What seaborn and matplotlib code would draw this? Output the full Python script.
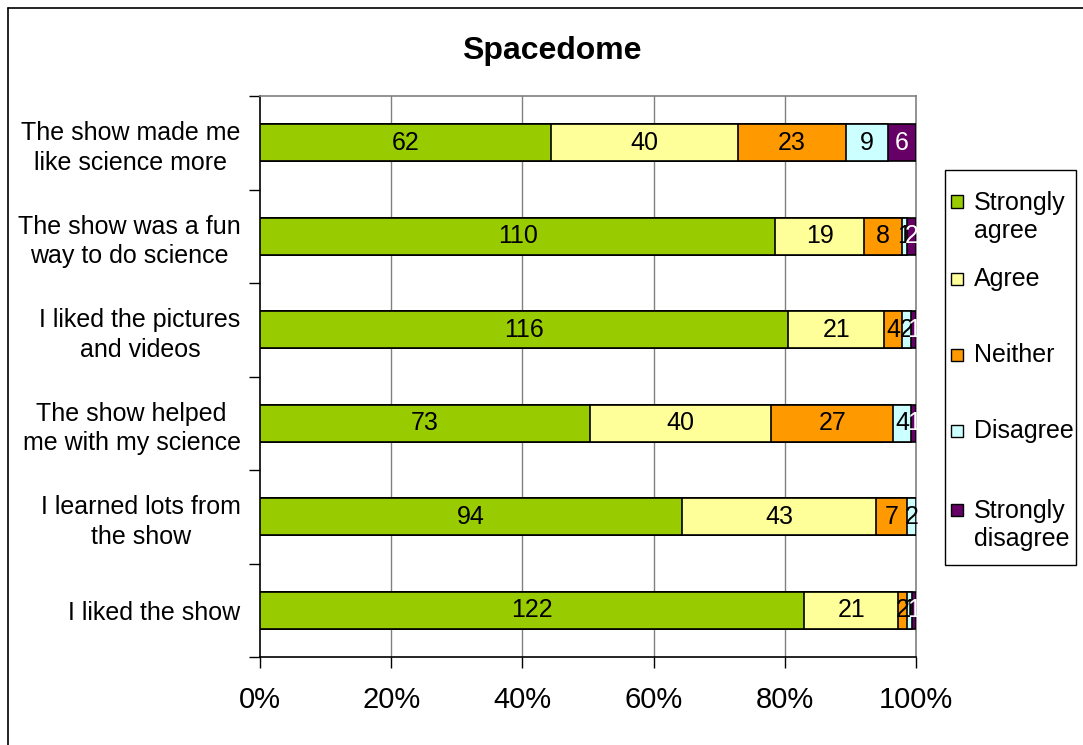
import numpy as np
import pandas as pd
import matplotlib
matplotlib.use("Agg")
import matplotlib.pyplot as plt
from matplotlib.patches import Rectangle
from matplotlib.lines import Line2D
from matplotlib.ticker import FixedLocator
import seaborn as sns

statements = [
    "The show made me\nlike science more",
    "The show was a fun\nway to do science",
    "I liked the pictures\nand videos",
    "The show helped\nme with my science",
    "I learned lots from\nthe show",
    "I liked the show",
]
responses = ["Strongly agree", "Agree", "Neither", "Disagree", "Strongly disagree"]
legend_labels = ["Strongly\nagree", "Agree", "Neither", "Disagree", "Strongly\ndisagree"]

strongly_agree = [62, 110, 116, 73, 94, 122]
agree = [40, 19, 21, 40, 43, 21]
neither = [23, 8, 4, 27, 7, 2]
disagree = [9, 1, 2, 4, 2, 1]
strongly_disagree = [6, 2, 1, 1, 0, 1]

colors = ["#99CC00", "#FFFF99", "#FF9900", "#CCFFFF", "#660066"]
text_colors = ["black", "black", "black", "black", "white"]

counts = np.array([strongly_agree, agree, neither, disagree, strongly_disagree], dtype=float)
totals = counts.sum(axis=0)
pct = counts / totals * 100
cum = np.cumsum(pct, axis=0)

df = pd.DataFrame({"statement": statements})
for i, r in enumerate(responses):
    df[r] = cum[i]

sns.set_theme(style="white")
plt.rcParams["font.family"] = ["Liberation Sans", "DejaVu Sans"]
plt.rcParams["text.color"] = "black"
plt.rcParams["xtick.color"] = "black"
plt.rcParams["ytick.color"] = "black"
plt.rcParams["axes.labelcolor"] = "black"

fig = plt.figure(figsize=(10.83, 7.45), dpi=100)
ax = fig.add_axes([260 / 1083, 1 - 657 / 745, 656 / 1083, 561 / 745])

# stacked bars: draw cumulative totals from the outermost segment inwards
for i in reversed(range(len(responses))):
    sns.barplot(data=df, x=responses[i], y="statement", order=statements,
                orient="h", color=colors[i], edgecolor="black", linewidth=1.2,
                width=0.4, saturation=1, ax=ax, zorder=3)

# segment value labels
for j in range(len(statements)):
    left = 0.0
    for i in range(len(responses)):
        w = pct[i, j]
        if counts[i, j] > 0:
            ax.text(left + w / 2, j, f"{int(counts[i, j])}", ha="center", va="center",
                    fontsize=18, color=text_colors[i], zorder=5)
        left += w

ax.set_xlim(0, 100)
ax.set_ylim(len(statements) - 0.5, -0.5)
ax.set_xlabel("")
ax.set_ylabel("")

xt = [0, 20, 40, 60, 80, 100]
ax.set_xticks(xt)
ax.set_xticklabels([f"{v}%" for v in xt], fontsize=21, color="black")
ax.tick_params(axis="x", bottom=True, direction="out", length=8, width=1,
               color="black", pad=13)

ax.set_yticks(range(len(statements)))
ax.set_yticklabels(statements, fontsize=18, multialignment="center", linespacing=1.3,
                   color="black")
ax.tick_params(axis="y", which="major", left=False, length=0, pad=14)
ax.yaxis.set_minor_locator(FixedLocator(np.arange(-0.5, len(statements), 1.0)))
ax.tick_params(axis="y", which="minor", left=True, direction="out", length=8,
               width=1, color="black")

ax.grid(False)
for v in [20, 40, 60, 80]:
    ax.axvline(v, color="#808080", lw=1, zorder=1)

for side in ["top", "right"]:
    ax.spines[side].set_color("#808080")
    ax.spines[side].set_linewidth(1.2)
for side in ["left", "bottom"]:
    ax.spines[side].set_color("black")
    ax.spines[side].set_linewidth(1.2)

fig.text(552 / 1083, 1 - 51 / 745, "Spacedome", ha="center", va="center",
         fontsize=23, fontweight="bold", color="black")

# legend box
W, H = 1083, 745
def fx(x):
    return x / W
def fy(y):
    return 1 - y / H

fig.patches.append(Rectangle((fx(945), fy(565)), fx(1076) - fx(945), fy(170) - fy(565),
                             transform=fig.transFigure, facecolor="white",
                             edgecolor="black", lw=1))
legend_y = [217, 279, 355, 431, 525]
for lab, c, y in zip(legend_labels, colors, legend_y):
    n_lines = lab.count("\n") + 1
    first_line_y = y - (n_lines - 1) * 15.5
    fig.patches.append(Rectangle((fx(951), fy(first_line_y + 6)), fx(12), 12 / H,
                                 transform=fig.transFigure, facecolor=c,
                                 edgecolor="black", lw=1))
    fig.text(fx(974), fy(y), lab, ha="left", va="center", fontsize=18,
             linespacing=1.25, color="black")

# outer chart border
fig.lines.append(Line2D([fx(7.5), fx(7.5)], [0, fy(7.5)], transform=fig.transFigure,
                        color="black", lw=1.2))
fig.lines.append(Line2D([fx(7.5), 1], [fy(7.5), fy(7.5)], transform=fig.transFigure,
                        color="black", lw=1.2))

fig.savefig("out.png", dpi=100, facecolor="white")
